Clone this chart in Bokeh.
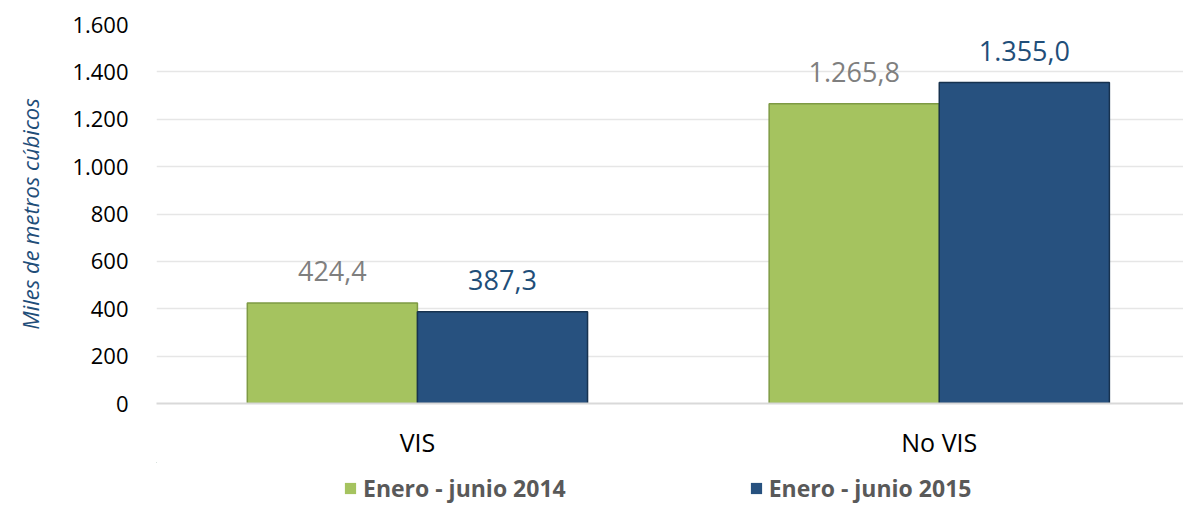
from bokeh.plotting import figure
from bokeh.layouts import column
from bokeh.models import ColumnDataSource, FixedTicker, Legend, LegendItem, Range1d
from bokeh.core.properties import value
from bokeh.embed import file_html
from bokeh.resources import INLINE

categories = ["VIS", "No VIS"]
series_names = ["Enero - junio 2014", "Enero - junio 2015"]
values_2014 = [424.4, 1265.8]
values_2015 = [387.3, 1355.0]
y_ticks = [0, 200, 400, 600, 800, 1000, 1200, 1400, 1600]
y_tick_labels = ["0", "200", "400", "600", "800", "1.000", "1.200", "1.400", "1.600"]

def fmt(v):
    s = f"{v:,.1f}"
    return s.replace(",", "X").replace(".", ",").replace("X", ".")

FONT = "Open Sans"
GREEN = "#A5C35F"
BLUE = "#27517F"
GREEN_EDGE = "#7E9A44"
BLUE_EDGE = "#17324F"

centers = [i + 0.5 for i in range(len(categories))]
bw = 0.326
x14 = [c - bw / 2 for c in centers]
x15 = [c + bw / 2 for c in centers]

src14 = ColumnDataSource(dict(x=x14, top=values_2014, lab=[fmt(v) for v in values_2014]))
src15 = ColumnDataSource(dict(x=x15, top=values_2015, lab=[fmt(v) for v in values_2015]))

p = figure(width=1183, height=462, output_backend="svg", toolbar_location=None,
           x_range=Range1d(0, 1.968), y_range=Range1d(0, 1600),
           min_border_left=156, min_border_right=0, min_border_top=24, min_border_bottom=59)
p.outline_line_color = None
p.background_fill_color = "white"
p.border_fill_color = "white"

r14 = p.vbar(x="x", top="top", width=bw, source=src14, fill_color=GREEN, line_color=GREEN_EDGE, line_width=1.5)
r15 = p.vbar(x="x", top="top", width=bw, source=src15, fill_color=BLUE, line_color=BLUE_EDGE, line_width=1.5)

p.text(x="x", y="top", text="lab", source=src14, text_align="center", text_baseline="middle",
       y_offset=-32, text_font=value(FONT), text_font_size="27px", text_color="#7F7F7F")
p.text(x="x", y="top", text="lab", source=src15, text_align="center", text_baseline="middle",
       y_offset=-32, text_font=value(FONT), text_font_size="27px", text_color="#1F4E79")

# y axis
p.yaxis.ticker = FixedTicker(ticks=y_ticks)
p.yaxis.major_label_overrides = {t: l for t, l in zip(y_ticks, y_tick_labels)}
p.yaxis.axis_line_color = None
p.yaxis.major_tick_line_color = None
p.yaxis.minor_tick_line_color = None
p.yaxis.major_label_text_font = FONT
p.yaxis.major_label_text_font_size = "22px"
p.yaxis.major_label_text_color = "#000000"
p.yaxis.major_label_standoff = 22
p.yaxis.axis_label = "Miles de metros cúbicos"
p.yaxis.axis_label_text_font = FONT
p.yaxis.axis_label_text_font_style = "italic"
p.yaxis.axis_label_text_font_size = "22px"
p.yaxis.axis_label_text_color = "#1F4E79"
p.yaxis.axis_label_standoff = 24

# x axis
p.xaxis.ticker = FixedTicker(ticks=centers)
p.xaxis.major_label_overrides = {c: n for c, n in zip(centers, categories)}
p.xaxis.axis_line_color = "#D9D9D9"
p.xaxis.axis_line_width = 2
p.xaxis.major_tick_line_color = None
p.xaxis.minor_tick_line_color = None
p.xaxis.major_label_text_font = FONT
p.xaxis.major_label_text_font_size = "25px"
p.xaxis.major_label_text_color = "#000000"
p.xaxis.major_label_standoff = 15

p.xgrid.grid_line_color = None
p.ygrid.grid_line_color = "#E6E6E6"
p.ygrid.grid_line_width = 1.5

# legend strip (series re-drawn far outside its visible ranges; only the legend shows)
lf = figure(width=1183, height=43, output_backend="svg", toolbar_location=None,
            x_range=Range1d(1000, 1001), y_range=Range1d(-100000, -99999),
            min_border_left=0, min_border_right=0, min_border_top=0, min_border_bottom=0)
lf.axis.visible = False
lf.grid.visible = False
lf.outline_line_color = None
lf.border_fill_color = "white"
lf.background_fill_color = "white"
lg14 = lf.vbar(x="x", top="top", width=bw, source=src14, fill_color=GREEN, line_color=None)
lg15 = lf.vbar(x="x", top="top", width=bw, source=src15, fill_color=BLUE, line_color=None)

legend = Legend(items=[LegendItem(label=series_names[0], renderers=[lg14]),
                       LegendItem(label=series_names[1], renderers=[lg15])],
                orientation="horizontal", location=(187, 1),
                label_text_font=FONT, label_text_font_size="23px", label_text_font_style="bold",
                label_text_color="#595959", glyph_width=14, glyph_height=14,
                label_standoff=6, spacing=183, padding=0, margin=0,
                border_line_color=None, background_fill_alpha=0)
lf.add_layout(legend, "center")

layout = column(p, lf, spacing=0)
open("out.html", "w").write(file_html(layout, INLINE))
